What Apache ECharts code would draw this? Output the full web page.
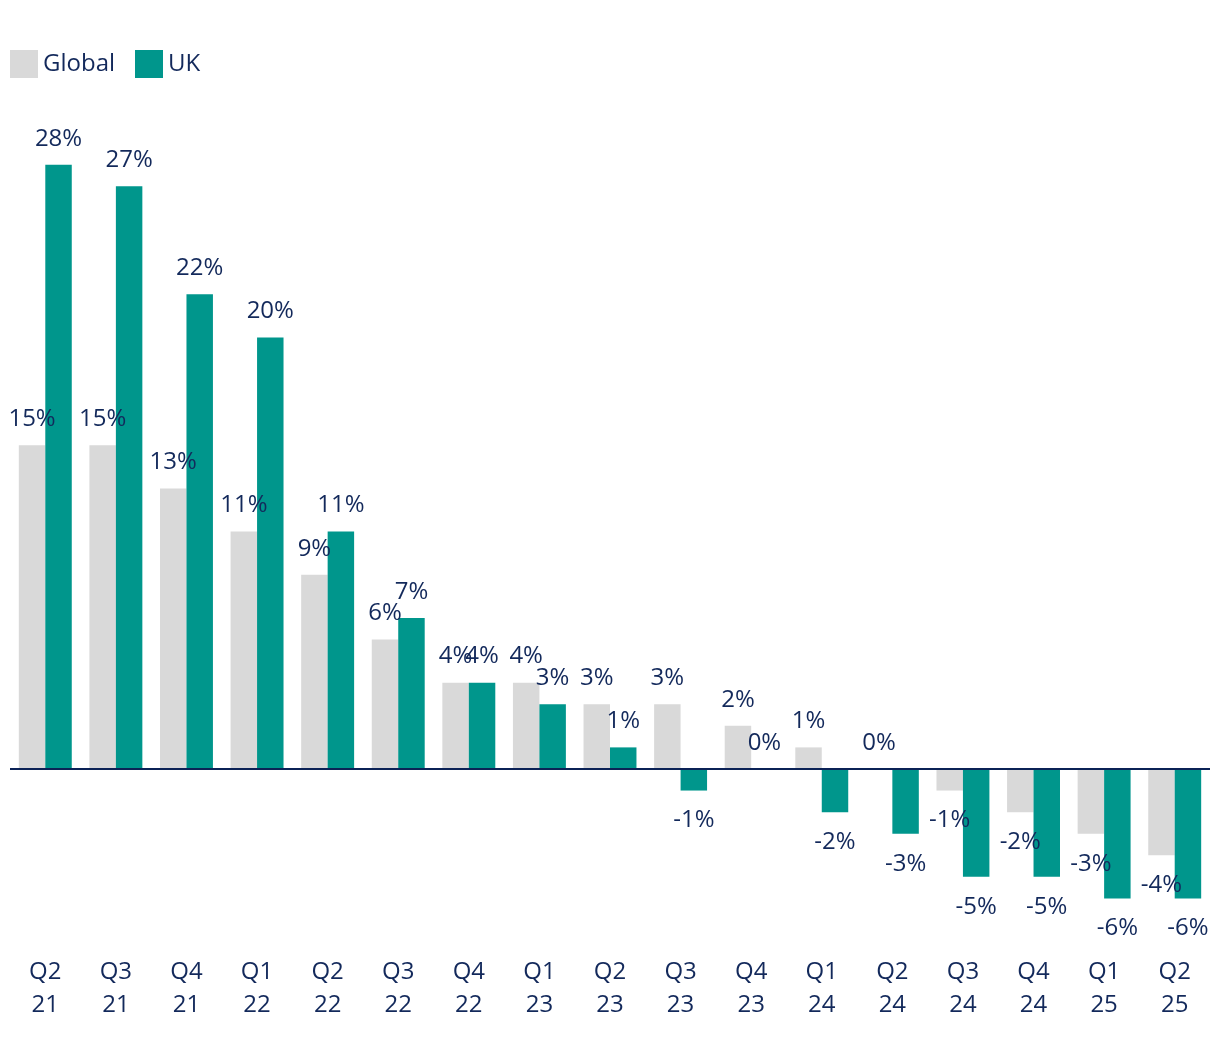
<!DOCTYPE html>
<html>
<head>
<meta charset="utf-8">
<script src="https://cdn.jsdelivr.net/npm/echarts@6/dist/echarts.min.js"></script>
<style>
  html, body { margin: 0; padding: 0; background: #ffffff; }
  #chart { width: 1220px; height: 1040px; }
</style>
</head>
<body>
<div id="chart"></div>
<script>
const categories = ['Q2 21','Q3 21','Q4 21','Q1 22','Q2 22','Q3 22','Q4 22','Q1 23','Q2 23','Q3 23','Q4 23','Q1 24','Q2 24','Q3 24','Q4 24','Q1 25','Q2 25'];
const globalValues = [15, 15, 13, 11, 9, 6, 4, 4, 3, 3, 2, 1, 0, -1, -2, -3, -4];
const ukValues = [28, 27, 22, 20, 11, 7, 4, 3, 1, -1, 0, -2, -3, -5, -5, -6, -6];

const TEXT = '#13295b';
const FONT = 'Open Sans';

function toItems(values) {
  return values.map(v => ({
    value: v,
    label: v < 0 ? { position: 'bottom', distance: 18 } : { position: 'top', distance: 14 }
  }));
}

const labelStyle = {
  show: true,
  formatter: '{c}%',
  fontSize: 24,
  fontFamily: FONT,
  color: TEXT
};

const chart = echarts.init(document.getElementById('chart'), null, { renderer: 'canvas' });
chart.setOption({
  backgroundColor: '#ffffff',
  animation: false,
  textStyle: { fontFamily: FONT },
  legend: {
    left: 5,
    top: 45,
    icon: 'rect',
    itemWidth: 28,
    itemHeight: 28,
    itemGap: 20,
    textStyle: { fontSize: 24, color: TEXT, fontFamily: FONT },
    data: ['Global', 'UK']
  },
  grid: { left: 10, right: 10, top: 121.6, bottom: 98.4, containLabel: false },
  xAxis: {
    type: 'category',
    data: categories,
    axisLine: { show: false, onZero: false },
    axisTick: { show: false },
    axisLabel: {
      margin: 14,
      fontSize: 24,
      lineHeight: 33,
      color: TEXT,
      fontFamily: FONT,
      interval: 0,
      formatter: v => v.replace(' ', '\n')
    }
  },
  yAxis: {
    type: 'value',
    min: -8,
    max: 30,
    interval: 2,
    show: false,
    splitLine: { show: false }
  },
  series: [
    {
      name: 'Global',
      type: 'bar',
      data: toItems(globalValues),
      itemStyle: { color: '#d9d9d9' },
      barGap: '0%',
      barCategoryGap: '25%',
      label: labelStyle
    },
    {
      name: 'UK',
      type: 'bar',
      data: toItems(ukValues),
      itemStyle: { color: '#00968c' },
      barGap: '0%',
      barCategoryGap: '25%',
      label: labelStyle,
      markLine: {
        silent: true,
        symbol: ['none', 'none'],
        label: { show: false },
        lineStyle: { color: '#0b2256', width: 2, type: 'solid' },
        data: [{ yAxis: 0 }],
        z: 10
      }
    }
  ]
});
</script>
</body>
</html>
